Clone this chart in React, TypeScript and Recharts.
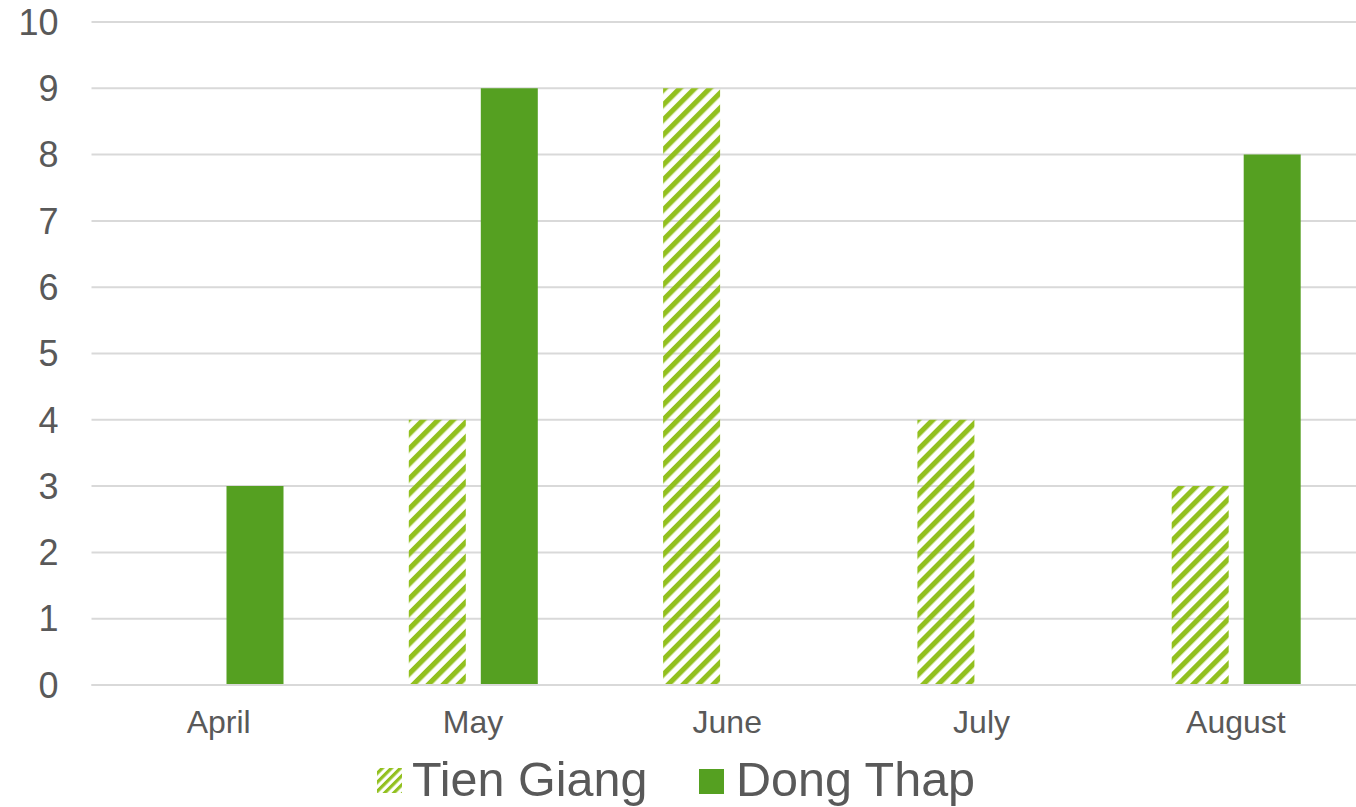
import React from 'react';
import { BarChart, Bar, XAxis, YAxis, CartesianGrid, Legend } from 'recharts';

// Monthly counts per province
const months = ['April', 'May', 'June', 'July', 'August'];
const tienGiang = [0, 4, 9, 4, 3];
const dongThap = [3, 9, 0, 0, 8];
const yTicks = [0, 1, 2, 3, 4, 5, 6, 7, 8, 9, 10];
const seriesNames = ['Tien Giang', 'Dong Thap'];

const HATCH_GREEN = '#92C01F';
const SOLID_GREEN = '#55A021';
const TEXT_GREY = '#595959';
const GRID_GREY = '#D9D9D9';
const FONT = '"Liberation Sans", Arial, sans-serif';

const data = months.map((m, i) => ({
  month: m,
  tienGiang: tienGiang[i],
  dongThap: dongThap[i],
}));

const YTick = (props: any) => {
  const { x, y, payload } = props;
  return (
    <text x={x} y={y} dy="0.355em" textAnchor="end" fill={TEXT_GREY} fontSize={36} fontFamily={FONT}>
      {payload.value}
    </text>
  );
};

const XTick = (props: any) => {
  const { x, y, payload } = props;
  return (
    <text x={x} y={y} dy="0.71em" textAnchor="middle" fill={TEXT_GREY} fontSize={32} fontFamily={FONT}>
      {payload.value}
    </text>
  );
};

const LegendContent = () => (
  <svg width={1356} height={57} style={{ display: 'block' }}>
    <defs>
      <pattern id="tgHatchSmall" patternUnits="userSpaceOnUse" width={6.4} height={6.4} patternTransform="rotate(45)">
        <rect x={0} y={0} width={3.2} height={6.4} fill={HATCH_GREEN} />
      </pattern>
    </defs>
    <rect x={377} y={18} width={25} height={25} fill="url(#tgHatchSmall)" />
    <text x={412} y={45.6} fill={TEXT_GREY} fontSize={48.5} fontFamily={FONT}>
      {seriesNames[0]}
    </text>
    <rect x={699} y={19} width={25} height={25} fill={SOLID_GREEN} />
    <text x={736} y={45.6} fill={TEXT_GREY} fontSize={48.5} fontFamily={FONT}>
      {seriesNames[1]}
    </text>
  </svg>
);

export default function App() {
  return (
    <div style={{ position: 'absolute', left: 0, top: 0, width: 1356, height: 807, overflow: 'hidden', background: '#fff' }}>
      <BarChart
        width={1370}
        height={807}
        data={data}
        margin={{ top: 22, right: 7, bottom: 92, left: 0 }}
        barSize={57}
        barGap={15}
      >
        <defs>
          <pattern id="tgHatch" patternUnits="userSpaceOnUse" width={10.6} height={10.6} patternTransform="rotate(45)">
            <rect x={0} y={0} width={5.2} height={10.6} fill={HATCH_GREEN} />
          </pattern>
        </defs>
        <CartesianGrid vertical={false} stroke={GRID_GREY} strokeWidth={2} />
        <XAxis
          dataKey="month"
          height={30}
          axisLine={{ stroke: GRID_GREY, strokeWidth: 2 }}
          tickLine={false}
          tickSize={0}
          tickMargin={25}
          tick={<XTick />}
          interval={0}
        />
        <YAxis
          width={91.5}
          domain={[0, 10]}
          ticks={yTicks}
          interval={0}
          axisLine={false}
          tickLine={false}
          tickSize={0}
          tickMargin={33}
          tick={<YTick />}
        />
        <Legend
          layout="horizontal"
          verticalAlign="middle"
          align="center"
          wrapperStyle={{ top: 750, left: 0, width: 1356, height: 57 }}
          content={<LegendContent />}
        />
        <Bar dataKey="tienGiang" name={seriesNames[0]} fill="url(#tgHatch)" isAnimationActive={false} />
        <Bar dataKey="dongThap" name={seriesNames[1]} fill={SOLID_GREEN} isAnimationActive={false} />
      </BarChart>
    </div>
  );
}
